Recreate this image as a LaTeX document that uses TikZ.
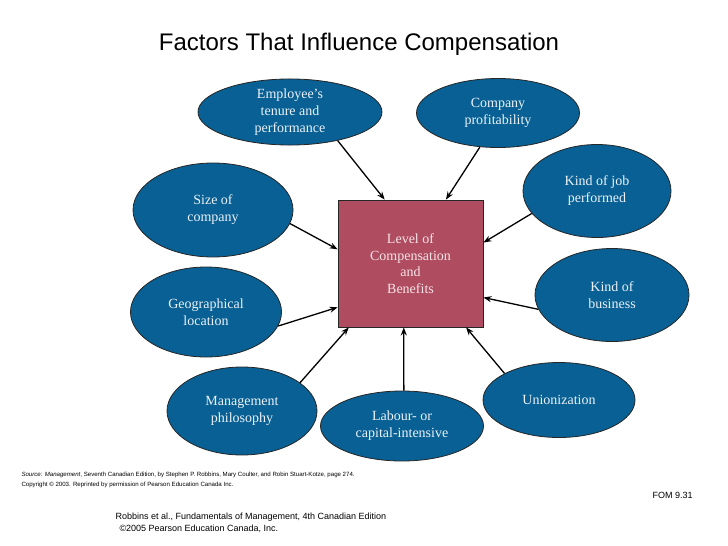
\documentclass[tikz,border=0pt]{standalone}
\usepackage{fontspec}
\setmainfont{Liberation Serif}
\setsansfont{Liberation Sans}
\usepackage{tikz}
\usetikzlibrary{arrows.meta, shapes.geometric}
\usepackage{xcolor}
\definecolor{ovalblue}{RGB}{8,96,148}
\definecolor{ovaltext}{RGB}{236,242,248}
\definecolor{boxred}{RGB}{176,76,96}
\definecolor{boxtext}{RGB}{246,228,232}
\tikzset{
  ttl/.style    ={font=\sffamily\fontsize{24}{28}\selectfont},
  % factor ovals around the centre box
  factor/.style ={draw=black!85, ellipse, fill=ovalblue, text=ovaltext,
                  inner sep=0pt, line width=0.8pt, align=center,
                  font=\fontsize{14}{17}\selectfont},
  level/.style  ={draw=black!85, rectangle, fill=boxred, text=boxtext,
                  minimum width=145pt, minimum height=127pt,
                  inner sep=0pt, line width=0.8pt, align=center,
                  font=\fontsize{14}{16.7}\selectfont},
  infl/.style   ={-{Stealth[length=8pt, width=6pt]}, line width=1.3pt},
  srcnote/.style={font=\sffamily\fontsize{6.1}{7}\selectfont, anchor=west},
  foot/.style   ={font=\sffamily\fontsize{9}{12}\selectfont, anchor=west},
}

\begin{document}
\begin{tikzpicture}[x=1pt, y=-1pt]
  \useasboundingbox (0,0) rectangle (728,546);
  \node[ttl] (title) at (359,44) {Factors That Influence Compensation};
  % ---- centre box
  \node[level] (lvl) at (410.5,263.5) {Level of\\Compensation\\and\\Benefits};
  % ---- factors, clockwise from top left
  \node[factor, minimum width=184pt, minimum height=66pt] (tenure) at (290,112)
    {Employee’s\\tenure and\\performance};
  \node[factor, minimum width=163pt, minimum height=69pt] (profit) at (498,113)
    {Company\\profitability};
  \node[factor, minimum width=148pt, minimum height=93pt] (jobkind) at (597,191)
    {Kind of job\\performed};
  \node[factor, minimum width=154pt, minimum height=93pt] (buskind) at (612,295)
    {Kind of\\business};
  \node[factor, minimum width=152pt, minimum height=75pt] (union) at (559,400)
    {Unionization};
  \node[factor, minimum width=163pt, minimum height=70pt] (labour) at (402,426)
    {Labour- or\\capital-intensive};
  \node[factor, minimum width=150pt, minimum height=88pt] (mgmt) at (242,411)
    {Management\\philosophy};
  \node[factor, minimum width=151pt, minimum height=90pt] (geo) at (206,312)
    {Geographical\\location};
  \node[factor, minimum width=160pt, minimum height=94pt] (size) at (213,210)
    {Size of\\company};
  % ---- arrows into the box
  \draw[infl] (tenure.-31)  -- (lvl.112);
  \draw[infl] (profit.242)  -- (lvl.61.5);
  \draw[infl] (jobkind.199) -- (lvl.16.5);
  \draw[infl] (buskind.191) -- (lvl.335);
  \draw[infl] (union.154)   -- (lvl.311);
  \draw[infl] (labour.87)   -- (lvl.264);
  \draw[infl] (mgmt.26)     -- (lvl.226);
  \draw[infl] (geo.-11)     -- (lvl.211.5);
  \draw[infl] (size.-10)    -- (lvl.169);
  % ---- source and footer
  \node[srcnote] (src) at (18,475) {\textit{Source: Management}, Seventh Canadian Edition,
    by Stephen P. Robbins, Mary Coulter, and Robin Stuart-Kotze, page 274.};
  \node[srcnote] (copy) at (18,485)
    {Copyright © 2003. Reprinted by permission of Pearson Education Canada Inc.};
  \node[foot] (fom) at (649,495) {FOM 9.31};
  \node[foot] (book) at (112,517)
    {Robbins et al., Fundamentals of Management, 4th Canadian Edition};
  \node[foot] (pub) at (116,529) {©2005 Pearson Education Canada, Inc.};
\end{tikzpicture}
\end{document}
